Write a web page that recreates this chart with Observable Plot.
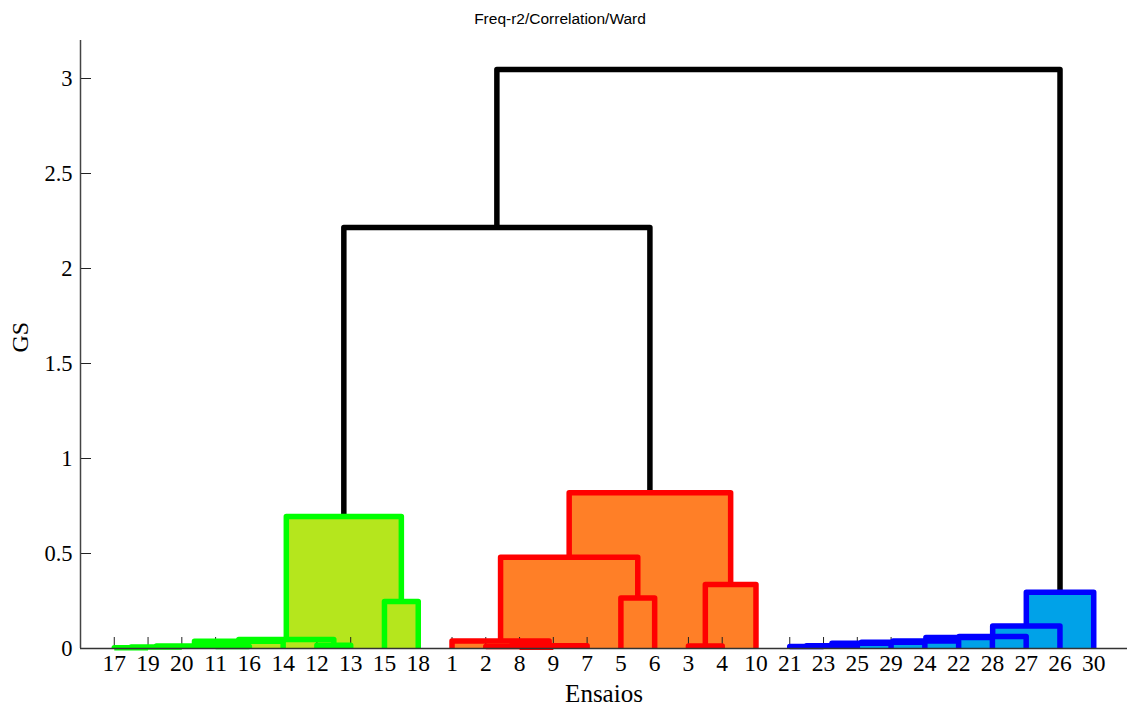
<!DOCTYPE html>
<html>
<head>
<meta charset="utf-8">
<script src="https://cdn.jsdelivr.net/npm/d3@7"></script>
<script src="https://cdn.jsdelivr.net/npm/@observablehq/plot@0.6"></script>
<style>
  html, body { margin: 0; padding: 0; background: #fff; }
</style>
</head>
<body>
<div id="chart"></div>
<script>
// ---- Text ----
const title = "Freq-r2/Correlation/Ward";
const xLabel = "Ensaios";
const yLabel = "GS";

// ---- Leaf order (x axis tick labels) ----
const leaves = ["17","19","20","11","16","14","12","13","15","18",
                "1","2","8","9","7","5","6","3","4","10",
                "21","23","25","29","24","22","28","27","26","30"];

// ---- Y ticks ----
const yTicks = [0, 0.5, 1, 1.5, 2, 2.5, 3];

// ---- Linkage (merge id, left child, right child, height, group) ----
const mergeIds = ["g1","g2","g3","g4","g5","g6","g7","g8","g9",
                  "r1","r2","r3","r4","r5","r6","r7","r8","r9",
                  "b1","b2","b3","b4","b5","b6","b7","b8","b9",
                  "k1","k2"];
const mergeLeft = ["17","g1","11","g2","g4","12","g5","15","g7",
                   "8","2","r2","1","5","r4","3","r7","r6",
                   "21","b1","b2","b3","b4","b5","b6","b7","b8",
                   "g9","k1"];
const mergeRight = ["19","20","16","g3","14","13","g6","18","g8",
                    "9","r1","7","r3","6","r5","4","10","r8",
                    "23","25","29","24","22","28","27","26","30",
                    "r9","b9"];
const mergeHeight = [0.004, 0.008, 0.010, 0.013, 0.038, 0.017, 0.048, 0.247, 0.695,
                     0.006, 0.010, 0.014, 0.040, 0.266, 0.480, 0.013, 0.337, 0.820,
                     0.010, 0.014, 0.028, 0.033, 0.040, 0.058, 0.063, 0.118, 0.296,
                     2.216, 3.047];
const mergeGroup = ["green","green","green","green","green","green","green","green","green",
                    "red","red","red","red","red","red","red","red","red",
                    "blue","blue","blue","blue","blue","blue","blue","blue","blue",
                    "link","link"];

// ---- Styles ----
const groupStroke = {green: "#00ff00", red: "#ff0000", blue: "#0000ff", link: "#000000"};
const groupFill = {green: "#b5e61d", red: "#ff7f27", blue: "#00a2e8"};

// ---- Build dendrogram geometry from linkage ----
const pos = new Map(leaves.map((l, i) => [l, {x: i, h: 0}]));
const nodes = mergeIds.map((id, i) => {
  const a = pos.get(mergeLeft[i]);
  const b = pos.get(mergeRight[i]);
  const n = {id, xl: a.x, hl: a.h, xr: b.x, hr: b.h, h: mergeHeight[i], base: 0,
             group: mergeGroup[i], x: (a.x + b.x) / 2};
  pos.set(id, {x: n.x, h: n.h});
  return n;
});
const ordered = nodes.slice().sort((a, b) => b.h - a.h);
const fills = ordered.filter(n => n.group !== "link").map(n => ({...n, color: groupFill[n.group]}));
const paths = ordered.flatMap(n => [
  {id: n.id, x: n.xl, y: n.hl, color: groupStroke[n.group]},
  {id: n.id, x: n.xl, y: n.h, color: groupStroke[n.group]},
  {id: n.id, x: n.xr, y: n.h, color: groupStroke[n.group]},
  {id: n.id, x: n.xr, y: n.hr, color: groupStroke[n.group]}
]);

const chart = Plot.plot({
  width: 1129,
  height: 709,
  marginLeft: 80,
  marginRight: 2,
  marginTop: 40,
  marginBottom: 61,
  x: {type: "linear", domain: [-1, leaves.length]},
  y: {domain: [0, 3.2]},
  color: {type: "identity"},
  style: {fontFamily: "'Liberation Serif', 'Times New Roman', serif", color: "#000", background: "#fff", overflow: "visible"},
  marks: [
    Plot.rect(fills, {x1: "xl", x2: "xr", y1: "base", y2: "h", fill: "color"}),
    Plot.axisX(d3.range(leaves.length), {
      tickSize: -11, tickPadding: 17, tickFormat: i => leaves[i],
      fontSize: 23.5, stroke: "#222", fill: "#000", label: null
    }),
    Plot.axisY(yTicks, {
      tickSize: -11, tickPadding: 19, tickFormat: d => String(d),
      fontSize: 22.5, stroke: "#222", fill: "#000", label: null
    }),
    Plot.line(paths, {
      x: "x", y: "y", z: "id", stroke: "color",
      strokeWidth: 5.5, strokeLinejoin: "round", strokeLinecap: "butt"
    }),
    Plot.ruleY([0], {stroke: "#333", strokeWidth: 1.3}),
    Plot.ruleX([-1], {stroke: "#444", strokeWidth: 1.5}),
    Plot.text([title], {frameAnchor: "top", dy: -28, dx: -44, fontFamily: "'Liberation Sans', Arial, sans-serif", fontSize: 15.5, fill: "#000"}),
    Plot.text([xLabel], {frameAnchor: "bottom", dy: 53, fontSize: 25, fill: "#000"}),
    Plot.text([yLabel], {frameAnchor: "left", rotate: -90, dx: -60, dy: 8, fontSize: 24, fill: "#000"})
  ]
});
document.getElementById("chart").appendChild(chart);
</script>
</body>
</html>
